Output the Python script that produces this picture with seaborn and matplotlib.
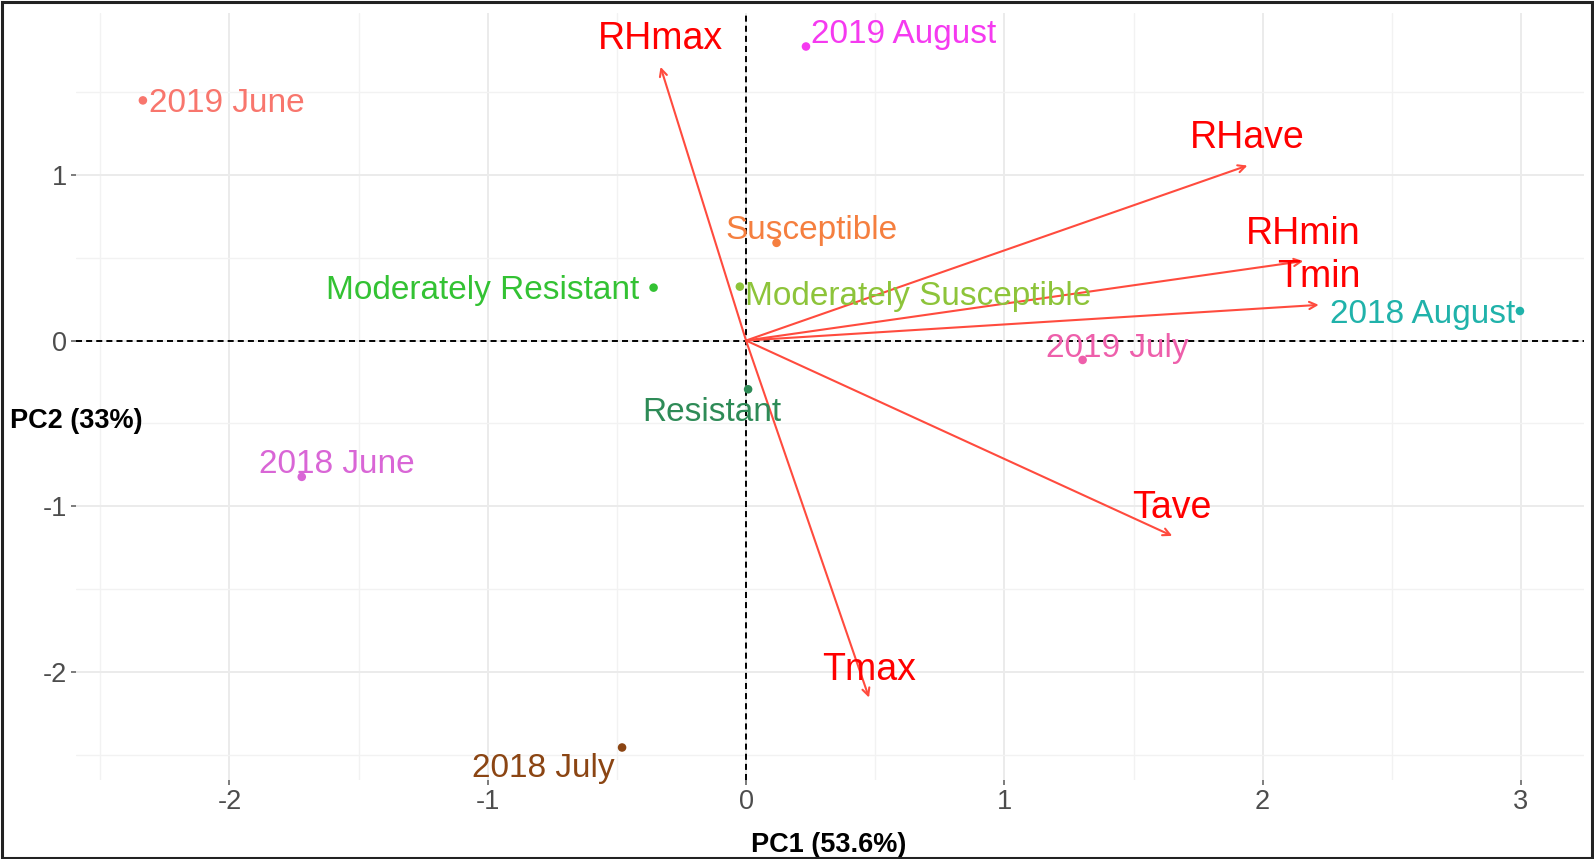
import matplotlib
matplotlib.use("Agg")
import matplotlib.pyplot as plt
import seaborn as sns
import pandas as pd
from matplotlib.patches import Rectangle

# ---------------- data ----------------
ind_labels = ["2019 June", "2019 August", "Susceptible", "Moderately Resistant",
              "Moderately Susceptible", "Resistant", "2019 July", "2018 August",
              "2018 June", "2018 July"]
ind_pc1 = [-2.335, 0.232, 0.118, -0.358, -0.024, 0.008, 1.303, 2.996, -1.720, -0.480]
ind_pc2 = [1.448, 1.773, 0.589, 0.319, 0.325, -0.294, -0.117, 0.178, -0.822, -2.454]
ind_colors = ["#F8766D", "#F53AF0", "#F57F3F", "#33C233", "#8DC43A",
              "#2E8B57", "#EE5FAB", "#20B2AA", "#D966D6", "#8B4513"]

var_labels = ["RHmax", "RHave", "RHmin", "Tmin", "Tave", "Tmax"]
var_pc1 = [-0.331, 1.941, 2.157, 2.217, 1.650, 0.476]
var_pc2 = [1.650, 1.055, 0.479, 0.215, -1.178, -2.153]

xticks = [-2, -1, 0, 1, 2, 3]
yticks = [-2, -1, 0, 1]
xlabel = "PC1 (53.6%)"
ylabel = "PC2 (33%)"

# label placement (ha, dx px, dy px) relative to each point
ind_label_pos = {
    "2019 June": ("left", 6, 0),
    "2019 August": ("left", 5, 15),
    "Susceptible": ("center", 34, 16),
    "Moderately Resistant": ("right", -14, 1),
    "Moderately Susceptible": ("left", 5, -6),
    "Resistant": ("center", -36, -19),
    "2019 July": ("center", 34, 15),
    "2018 August": ("right", -5, 0),
    "2018 June": ("center", 34, 16),
    "2018 July": ("center", -77, -17),
}

# ---------------- style ----------------
sns.set_theme(style="whitegrid")
plt.rcParams["font.family"] = ["Liberation Sans", "DejaVu Sans"]

W, H = 1594, 859
fig = plt.figure(figsize=(W / 100, H / 100), dpi=100)
fig.patch.set_facecolor("white")
left, right, top, bottom = 76, 1584, 13, 780
ax = fig.add_axes([left / W, 1 - bottom / H, (right - left) / W, (bottom - top) / H])
ax.set_facecolor("white")

df = pd.DataFrame({"PC1": ind_pc1, "PC2": ind_pc2, "label": ind_labels})

ax.axhline(0, color="black", lw=1.4, ls=(0, (3.1, 2.1)), zorder=1)
ax.axvline(0, color="black", lw=1.4, ls=(0, (3.1, 2.1)), zorder=1)

sns.scatterplot(data=df, x="PC1", y="PC2", hue="label", palette=ind_colors,
                hue_order=ind_labels, s=38, linewidth=0, legend=False, ax=ax, zorder=3)

k = 0.732  # display px -> points
for lab, x, y, c in zip(ind_labels, ind_pc1, ind_pc2, ind_colors):
    ha, dx, dy = ind_label_pos[lab]
    ax.annotate(lab, (x, y), xytext=(dx * k, dy * k), textcoords="offset points",
                ha=ha, va="center_baseline", fontsize=24, color=c, zorder=4)

for lab, x, y in zip(var_labels, var_pc1, var_pc2):
    ax.annotate("", xy=(x, y), xytext=(0, 0),
                arrowprops=dict(arrowstyle="->", color="#FF4B3E", lw=1.5,
                                shrinkA=0, shrinkB=0, mutation_scale=13),
                zorder=2)
    ax.annotate(lab, (x, y), xytext=(0, 31 * k), textcoords="offset points",
                ha="center", va="center_baseline", fontsize=27, color="#FF0000", zorder=4)

# grid
ax.set_xticks(xticks)
ax.set_yticks(yticks)
ax.set_xticks([v + 0.5 for v in [-3] + xticks], minor=True)
ax.set_yticks([v + 0.5 for v in [-3] + yticks], minor=True)
ax.grid(which="major", color="#EBEBEB", lw=1.4)
ax.grid(which="minor", color="#F2F2F2", lw=1.0)
ax.set_axisbelow(True)
for s in ax.spines.values():
    s.set_visible(False)

# limits (set last so ticks / autoscale do not override them)
ax.set_xlim(-2.594, 3.244)
ax.set_ylim(-2.65, 1.975)

ax.tick_params(axis="both", which="major", labelsize=19.5, labelcolor="#4D4D4D",
               length=3.5, width=1.2, color="#666666", pad=3, left=True, bottom=True)
ax.tick_params(which="minor", length=0)
ax.set_xticklabels([str(t) for t in xticks])
ax.set_yticklabels([str(t) for t in yticks])

ax.set_xlabel(xlabel, fontsize=19.5, fontweight="bold", color="black")
ax.set_ylabel(ylabel, fontsize=19.5, fontweight="bold", color="black",
              rotation=0, ha="left", va="center")
ax.xaxis.set_label_coords(0.499, -0.068)
ax.yaxis.set_label_coords(-0.0438, 0.468)

fig.patches.append(Rectangle((0.001, 0.001), 0.998, 0.997, transform=fig.transFigure,
                             fill=False, edgecolor="#222222", lw=2.2))

fig.savefig("out.png", dpi=100, facecolor="white")
